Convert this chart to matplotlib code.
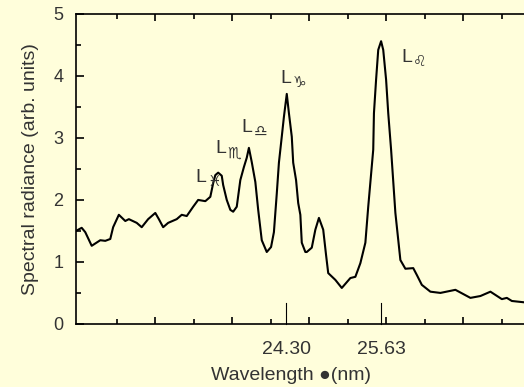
import numpy as np
import matplotlib
matplotlib.use("Agg")
import matplotlib.pyplot as plt
from matplotlib.ticker import MultipleLocator, FixedLocator

# spectrum (wavelength nm, radiance arb. units)
wavelength = [21.36, 21.44, 21.49, 21.58, 21.70, 21.77, 21.84, 21.88, 21.96, 22.05,
              22.10, 22.21, 22.28, 22.37, 22.47, 22.52, 22.58, 22.65, 22.77, 22.84,
              22.91, 23.00, 23.07, 23.17, 23.24, 23.28, 23.31, 23.35, 23.40, 23.42,
              23.47, 23.52, 23.56, 23.61, 23.66, 23.71, 23.75, 23.78, 23.82, 23.87,
              23.91, 23.96, 24.03, 24.09, 24.13, 24.17, 24.20, 24.24, 24.27, 24.31,
              24.34, 24.38, 24.40, 24.44, 24.47, 24.50, 24.52, 24.57, 24.59, 24.66,
              24.71, 24.76, 24.82, 24.86, 24.89, 24.99, 25.08, 25.20, 25.27, 25.34,
              25.41, 25.45, 25.52, 25.53, 25.56, 25.59, 25.63, 25.66, 25.70, 25.73,
              25.77, 25.83, 25.90, 25.97, 26.08, 26.13, 26.20, 26.32, 26.46, 26.67,
              26.88, 27.02, 27.16, 27.32, 27.39, 27.46, 27.62]
radiance = [1.50, 1.55, 1.48, 1.26, 1.35, 1.34, 1.37, 1.56, 1.76, 1.66,
            1.69, 1.63, 1.56, 1.69, 1.79, 1.69, 1.56, 1.63, 1.69, 1.76,
            1.74, 1.89, 2.00, 1.98, 2.05, 2.27, 2.40, 2.44, 2.39, 2.24,
            2.00, 1.84, 1.81, 1.89, 2.32, 2.53, 2.68, 2.84, 2.61, 2.29,
            1.84, 1.35, 1.16, 1.24, 1.48, 2.10, 2.60, 3.02, 3.34, 3.71,
            3.40, 3.02, 2.60, 2.32, 1.95, 1.76, 1.31, 1.16, 1.16, 1.23,
            1.52, 1.71, 1.52, 1.11, 0.82, 0.71, 0.58, 0.74, 0.76, 0.98,
            1.31, 1.89, 2.81, 3.40, 3.94, 4.42, 4.56, 4.42, 3.94, 3.40,
            2.81, 1.79, 1.03, 0.89, 0.90, 0.79, 0.63, 0.52, 0.50, 0.55,
            0.42, 0.45, 0.52, 0.40, 0.42, 0.37, 0.35]

marked_lines = [24.30, 25.63]
marked_labels = ["24.30", "25.63"]

peak_names = ["L", "L", "L", "L", "L"]
peak_subs = ["\u2653", "\u264f", "\u264e", "\u2651", "\u264c"]
peak_x = [23.03, 23.31, 23.68, 24.22, 25.91]
peak_y = [2.29, 2.76, 3.10, 3.89, 4.23]

bg = "#fffedb"
txt = "#333333"
plt.rcParams["font.family"] = ["Liberation Sans", "DejaVu Sans"]

fig = plt.figure(figsize=(5.24, 3.87), dpi=100, facecolor=bg)
ax = fig.add_axes([0.145, 0.163, 0.855, 0.801], facecolor=bg)

ax.plot(wavelength, radiance, color="black", lw=1.5)

ax.set_xlim(21.36, 27.63)
ax.set_ylim(0, 5)
ax.yaxis.set_major_locator(MultipleLocator(1))
ax.yaxis.set_minor_locator(MultipleLocator(0.5))
ax.xaxis.set_major_locator(FixedLocator(np.arange(22.47, 27.6, 1.078)))
ax.xaxis.set_minor_locator(FixedLocator(np.arange(21.93, 27.6, 1.078)))
ax.set_xticklabels([])
ax.tick_params(which="both", direction="in", top=True, right=False, width=1.2, colors="black")
ax.tick_params(axis="x", which="major", length=5)
ax.tick_params(axis="x", which="minor", length=3.5)
ax.tick_params(axis="y", which="major", length=6, labelsize=13, labelcolor=txt, pad=9)
ax.tick_params(axis="y", which="minor", length=3.5)
for s in ["left", "bottom", "top"]:
    ax.spines[s].set_linewidth(1.2)
ax.spines["right"].set_visible(False)

ax.set_ylabel("Spectral radiance (arb. units)", fontsize=14, color=txt, labelpad=10)

# marked wavelengths
for xv, lab in zip(marked_lines, marked_labels):
    ax.plot([xv, xv], [0, 0.33], color="black", lw=0.8, clip_on=False)
    ax.annotate(lab, (xv, 0), xytext=(0, -12), textcoords="offset points",
                ha="center", va="top", fontsize=14, color=txt, annotation_clip=False)

fig.text(0.555, 0.031, "Wavelength \u25cf(nm)", ha="center", va="center", fontsize=14, color=txt)

# peak labels
for n, s, xv, yv in zip(peak_names, peak_subs, peak_x, peak_y):
    ax.text(xv, yv, n, fontsize=14, color=txt, ha="left", va="baseline")
    ax.annotate(s, (xv, yv), xytext=(8.5, 0), textcoords="offset points",
                fontsize=11, color=txt, family="DejaVu Sans", ha="left", va="center")

fig.savefig("out.png", dpi=100, facecolor=bg)
